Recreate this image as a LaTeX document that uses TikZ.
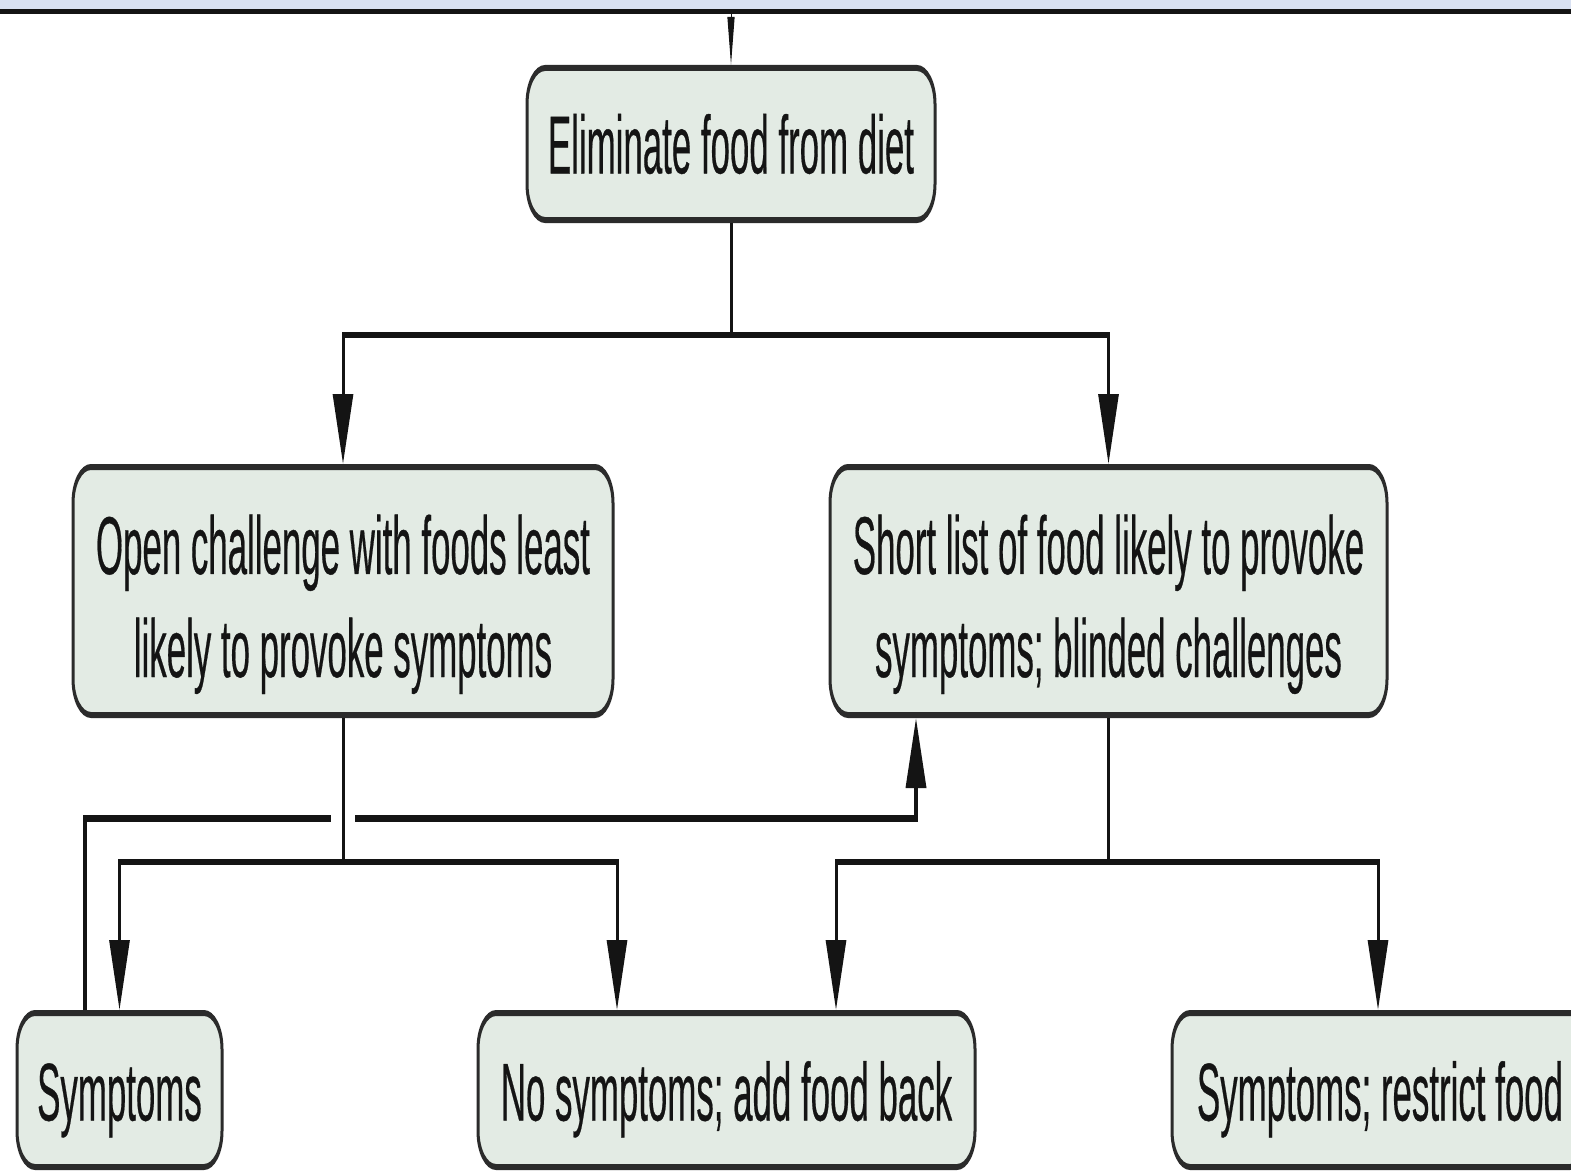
\documentclass[tikz,border=0pt]{standalone}
\usepackage{fontspec}
\setmainfont{Liberation Sans}[FakeStretch=0.85, FakeBold=0.5]
\usetikzlibrary{arrows.meta}
\definecolor{boxfill}{HTML}{E3EBE4}
\definecolor{boxline}{HTML}{2B2B2B}
\definecolor{ink}{HTML}{141414}
\definecolor{band}{HTML}{D9E1F2}
% invisible strut that lowers a node's text inside its box
\newcommand\lowerby[1]{\rule{0pt}{#1}}
\begin{document}
\begin{tikzpicture}
\useasboundingbox (0,0) rectangle (1571pt,-1172pt);
\fill[white] (0,0) rectangle (1571pt,-1172pt);
\clip (0,0) rectangle (1571pt,-1172pt);
% the whole chart is drawn on a canvas stretched twice vertically
\begin{scope}[x=1pt, y=-0.5pt, transform canvas={yscale=2},
  stepbox/.style={draw=boxline, fill=boxfill, line width=3pt, rounded corners=18pt,
    align=center, text=ink, inner sep=0pt, font=\fontsize{41}{51.5}\selectfont},
  wire/.style={draw=ink, line width=3pt},
  tip/.style={wire, -{Triangle[length=35pt,width=20pt]}}]

  % strip of the frame above
  \fill[band] (0,0) rectangle (1571,9);
  \draw[ink, line width=2.5pt] (0,11.5) -- (1571,11.5);

  % steps
  \node[stepbox, minimum width=408pt, minimum height=76pt] (elim) at (731,144) {Eliminate food from diet};
  \node[stepbox, minimum width=540pt, minimum height=124pt] (open) at (343,591)
    {\lowerby{43pt}Open challenge with foods least\\likely to provoke symptoms};
  \node[stepbox, minimum width=557pt, minimum height=124pt] (short) at (1108.5,591)
    {\lowerby{43pt}Short list of food likely to provoke\\symptoms; blinded challenges};
  \node[stepbox, minimum width=205pt, minimum height=77pt] (symp) at (119.5,1090) {\lowerby{39pt}Symptoms};
  \node[stepbox, minimum width=497pt, minimum height=77pt] (nosymp) at (726.5,1090) {\lowerby{39pt}No symptoms; add food back};
  \node[stepbox, minimum width=416pt, minimum height=77pt] (restrict) at (1380,1090) {\lowerby{39pt}Symptoms; restrict food};

  % entry from above
  \coordinate (top) at (731,12);
  \draw[ink, line width=1pt, -{Triangle[length=24pt,width=7pt]}] (top) -- (elim.north);

  % first split
  \coordinate (j1) at (731,335);
  \draw[wire] (elim.south) -- (j1);
  \draw[tip] (j1) -| (open.north);
  \draw[tip] (j1) -| (short.north);

  % symptoms on open challenge lead to blinded challenges
  \coordinate (fbturn) at (916,818);
  \draw[tip, line width=3.5pt] ([xshift=-34.5pt]symp.north) |- (fbturn) -- ([xshift=-192.5pt]short.south);

  % outcomes of the open challenge
  \coordinate (j2) at (343,862);
  \draw[wire, preaction={draw=white, line width=24pt, shorten <=40pt, shorten >=12pt}] (open.south) -- (j2);
  \draw[tip] (j2) -| (symp.north);
  \draw[tip] (j2) -| ([xshift=-109.5pt]nosymp.north);

  % outcomes of the blinded challenges
  \coordinate (j3) at (1108.5,862);
  \draw[wire] (short.south) -- (j3);
  \draw[tip] (j3) -| ([xshift=109.5pt]nosymp.north);
  \draw[tip] (j3) -| ([xshift=-2pt]restrict.north);
\end{scope}
\end{tikzpicture}
\end{document}
